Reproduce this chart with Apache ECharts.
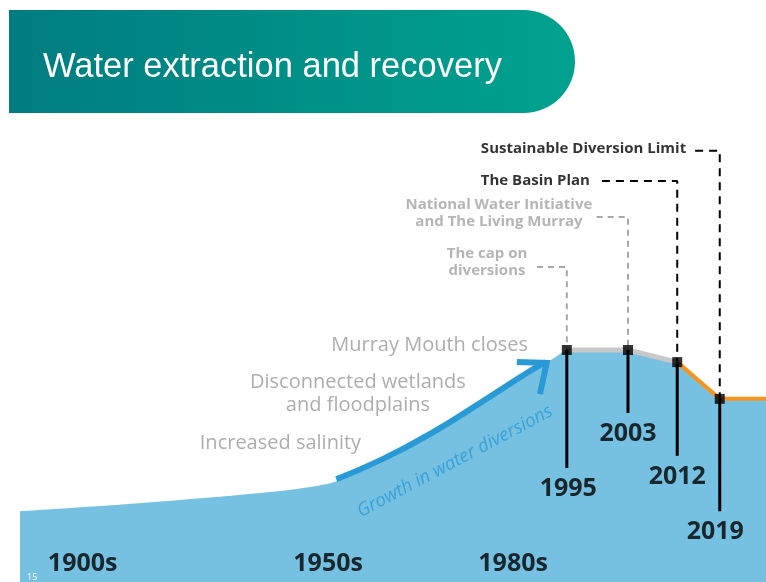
<!DOCTYPE html>
<html>
<head>
<meta charset="utf-8">
<script src="https://cdn.jsdelivr.net/npm/echarts@6/dist/echarts.min.js"></script>
<style>html,body{margin:0;padding:0;background:#fff}#chart{width:766px;height:582px}</style>
</head>
<body>
<div id="chart"></div>
<script>
// timeline position (0-100) vs level of water diversions (0-100)
// rising part (smoothed) up to 1995
const growthX = [0, 10.7, 21.4, 32.2, 38.9, 42.0, 45.3, 48.7, 52.0, 55.4, 58.7, 62.1, 65.4, 68.8, 71.0, 72.4, 73.3];
const growthY = [16.4, 17.6, 19.0, 20.6, 22.0, 23.1, 25.2, 27.8, 30.8, 34.0, 37.5, 41.2, 44.9, 48.6, 51.2, 52.8, 53.7];
// plateau and recovery after 1995
const recoveryX = [72.4, 73.3, 81.5, 88.1, 93.8, 100];
const recoveryY = [52.8, 53.7, 53.7, 50.9, 42.4, 42.4];

// "growth" arrow along the rising part
const arrowX = [42.4, 48.7, 55.4, 62.1, 68.8, 70.5];
const arrowY = [23.8, 28.5, 34.7, 41.9, 49.3, 50.9];
const headX = [66.6, 70.6, 69.7];
const headY = [50.9, 50.7, 43.5];

// milestones
const years = ['1995', '2003', '2012', '2019'];
const yearX = [73.3, 81.5, 88.1, 93.8];
const yearY = [53.7, 53.7, 50.9, 42.4];
const stemEnd = [26.4, 39.1, 29.2, 16.4];

// policies linked to milestones
const policies = ['The cap on\ndiversions', 'National Water Initiative\nand The Living Murray', 'The Basin Plan', 'Sustainable Diversion Limit'];
const policyLevel = [72.9, 84.5, 92.8, 99.8];
const leaderStart = [69.3, 77.3, 78.0, 90.5];

const impacts = ['Increased salinity', 'Disconnected wetlands\nand floodplains', 'Murray Mouth closes'];
const decades = ['1900s', '1950s', '1980s'];
const decadeX = [8.4, 41.3, 66.1];

const zip = (a, b) => a.map((v, i) => [v, b[i]]);

let chart = echarts.init(document.getElementById('chart'));

let series = [];
const areaColor = '#76c1e1';

// area, in two parts so the rise can be smoothed and the corners stay sharp
series.push({
    type: 'line', data: zip(growthX, growthY), symbol: 'none', z: 1, smooth: 0.4,
    lineStyle: { width: 0 }, areaStyle: { color: areaColor, opacity: 1 }, silent: true
});
series.push({
    type: 'line', data: zip(recoveryX, recoveryY), symbol: 'none', z: 1,
    lineStyle: { width: 0 }, areaStyle: { color: areaColor, opacity: 1 }, silent: true
});
// growth arrow
series.push({
    type: 'line', data: zip(arrowX, arrowY), symbol: 'none', smooth: 0.5, z: 3,
    lineStyle: { color: '#2a9ad6', width: 6, cap: 'butt' }
});
series.push({
    type: 'line', data: zip(headX, headY), symbol: 'none', z: 3,
    lineStyle: { color: '#2a9ad6', width: 6, cap: 'butt', join: 'miter' }
});
// recovery lines
series.push({
    type: 'line', data: zip(yearX.slice(0, 3), yearY.slice(0, 3)), symbol: 'none', z: 4,
    lineStyle: { color: '#c8c8c8', width: 5 }
});
series.push({
    type: 'line', data: [[yearX[2], yearY[2]], [yearX[3], yearY[3]], [100, yearY[3]]], symbol: 'none', z: 4,
    lineStyle: { color: '#f7941d', width: 4 }
});
// stems and leaders
years.forEach((y, i) => {
    series.push({
        type: 'line', data: [[yearX[i], yearY[i]], [yearX[i], stemEnd[i]]], symbol: 'none', z: 5,
        lineStyle: { color: '#000', width: 3 }
    });
    series.push({
        type: 'line', clip: false, symbol: 'none', z: 5,
        data: [[leaderStart[i], policyLevel[i]], [yearX[i], policyLevel[i]], [yearX[i], yearY[i]]],
        lineStyle: { color: i < 2 ? '#a8a8a8' : '#000', width: 2, type: i < 2 ? [6, 5] : [8, 6] }
    });
});
// milestone markers
series.push({
    type: 'scatter', data: zip(yearX, yearY), symbol: 'rect', symbolSize: 10, z: 10,
    itemStyle: { color: '#000' }
});

// text labels
function lab(x, y, text, style) {
    return {
        value: [x, y],
        label: Object.assign({ show: true, formatter: text, position: [0, 0], fontFamily: 'Open Sans' }, style)
    };
}
let big = { fontSize: 25, fontWeight: 'bold', color: '#000', align: 'center', verticalAlign: 'middle' };
let impact = { fontSize: 20, color: '#999999', verticalAlign: 'middle', lineHeight: 23 };
let pol = { fontSize: 15, fontWeight: 'bold', verticalAlign: 'middle', lineHeight: 17 };
let labelLayout = {
    years: [[73.5, 21.5], [81.5, 34.3], [88.1, 24.3], [93.2, 11.6]],
    policies: [[62.6, 74.0, 'center'], [64.2, 85.3, 'center'], [76.4, 92.8, 'right'], [89.3, 100.2, 'right']],
    impacts: [[24.1, 32.2, 'left'], [45.3, 43.6, 'center'], [68.1, 54.9, 'right']]
};
let labels = [];
years.forEach((y, i) => labels.push(lab(labelLayout.years[i][0], labelLayout.years[i][1], y, big)));
decades.forEach((d, i) => labels.push(lab(decadeX[i], 4.2, d, big)));
policies.forEach((p, i) => {
    let l = labelLayout.policies[i];
    labels.push(lab(l[0], l[1], p, Object.assign({}, pol, { align: l[2], color: i < 2 ? '#a3a3a3' : '#000' })));
});
impacts.forEach((p, i) => {
    let l = labelLayout.impacts[i];
    labels.push(lab(l[0], l[1], p, Object.assign({}, impact, { align: l[2] })));
});
labels.push(lab(58.3, 27.9, 'Growth in water diversions', {
    fontSize: 18.5, fontStyle: 'italic', color: '#2a9ad6', align: 'center', verticalAlign: 'middle', rotate: 28
}));
series.push({ type: 'scatter', data: labels, symbolSize: 0, z: 12, clip: false, silent: true });

let option = {
    animation: false,
    grid: { left: 20, right: 0, top: 150, bottom: 0 },
    xAxis: { type: 'value', min: 0, max: 100, show: false },
    yAxis: { type: 'value', min: 0, max: 100, show: false },
    graphic: [
        {
            type: 'rect', shape: { x: 9, y: 10, width: 566, height: 103, r: [0, 52, 52, 0] },
            style: {
                fill: new echarts.graphic.LinearGradient(0, 0, 1, 0, [
                    { offset: 0, color: '#007c80' }, { offset: 1, color: '#00a28f' }
                ])
            }
        },
        {
            type: 'text', x: 43, y: 67,
            style: { text: 'Water extraction and recovery', fill: '#fff', font: '34.5px "Liberation Sans", Arial', verticalAlign: 'middle' }
        },
        {
            type: 'text', x: 27, y: 577, z: 20,
            style: { text: '15', fill: '#fff', font: '9px "Open Sans"', verticalAlign: 'middle' }
        }
    ],
    series: series
};
chart.setOption(option);
</script>
</body>
</html>
